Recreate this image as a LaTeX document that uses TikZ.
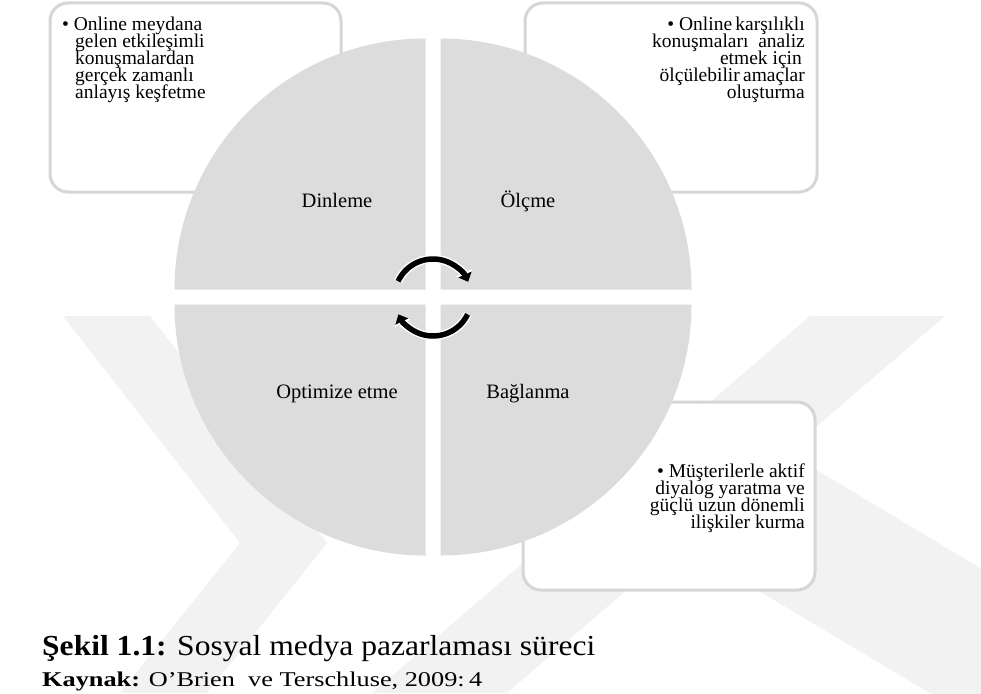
\documentclass[tikz,border=0pt]{standalone}
\usepackage{fontspec}
\setmainfont{Liberation Serif}
\usepackage{graphicx}
\usetikzlibrary{arrows.meta}

\definecolor{slicegray}{HTML}{DCDCDC}
\definecolor{framegray}{HTML}{D6D6D6}
\definecolor{markgray}{HTML}{F2F2F2}

\tikzset{
  slice/.style={fill=slicegray},
  infobox/.style={draw=framegray, line width=3pt, fill=white, rounded corners=18pt},
  boxline/.style={inner sep=0pt, text height=11pt, text depth=3pt, font=\fontsize{19.5}{19.5}\selectfont},
  quadlabel/.style={inner sep=0pt, anchor=base, font=\fontsize{20.5}{20.5}\selectfont},
  markband/.style={fill=markgray},
  halo/.style={white, line width=8.5pt, -{Triangle[width=17pt,length=10pt]}},
  turn/.style={black, line width=5.5pt, -{Triangle[width=14pt,length=8pt]}},
}

\begin{document}
\begin{tikzpicture}[x=1pt, y=-1pt]
\useasboundingbox (0,0) rectangle (981,693);
\fill[white] (0,0) rectangle (981,693);

% faint background emblem
\begin{scope}
  \clip (0,0) rectangle (981,693);
  \fill[markband] (63,316) -- (150,316) -- (327,543) -- (207,693) -- (120,693) -- (240,543) -- cycle;
  \fill[markband] (810,316) -- (945,316) -- (507,693) -- (372,693) -- cycle;
  \fill[markband] (700,400) -- (1000,580) -- (1000,735) -- (640,520) -- cycle;
\end{scope}

% rounded text panels
\draw[infobox] (50,3) rectangle (341,192);
\draw[infobox] (525,3) rectangle (817,192);
\draw[infobox] (523,402) rectangle (815,590);

% four quarter slices of the disc
\fill[slice] (425.5,289.5) -- (174.5,289.5) arc[start angle=180, end angle=270, radius=251] -- cycle;
\fill[slice] (440.5,289.5) -- (440.5,38.5) arc[start angle=270, end angle=360, radius=251] -- cycle;
\fill[slice] (440.5,304.5) -- (691.5,304.5) arc[start angle=0, end angle=90, radius=251] -- cycle;
\fill[slice] (425.5,304.5) -- (425.5,555.5) arc[start angle=90, end angle=180, radius=251] -- cycle;

% slice labels
\node[quadlabel] (dinleme) at (337,207.5) {Dinleme};
\node[quadlabel] (olcme) at (528,207.5) {Ölçme};
\node[quadlabel] (optimize) at (337,398.5) {Optimize etme};
\node[quadlabel] (baglanma) at (528,398.5) {Bağlanma};

% circular arrows in the centre
\coordinate (hub) at (433,297.5);
\draw[halo] ([shift={(205:38.5)}]hub) arc[start angle=205, end angle=336, radius=38.5];
\draw[turn] ([shift={(205:38.5)}]hub) arc[start angle=205, end angle=336, radius=38.5];
\draw[halo] ([shift={(26:38.5)}]hub) arc[start angle=26, end angle=154, radius=38.5];
\draw[turn] ([shift={(26:38.5)}]hub) arc[start angle=26, end angle=154, radius=38.5];

% panel texts
\node[boxline, anchor=base west] (tl1) at (62,30.5) {• Online meydana};
\node[boxline, anchor=base west] (tl2) at (75,47.5) {gelen etkileşimli};
\node[boxline, anchor=base west] (tl3) at (75,64.5) {konuşmalardan};
\node[boxline, anchor=base west] (tl4) at (75,81.5) {gerçek zamanlı};
\node[boxline, anchor=base west] (tl5) at (75,98.5) {anlayış keşfetme};

\node[boxline, anchor=base east] (tr1) at (805,30.5) {• Online\,karşılıklı};
\node[boxline, anchor=base east] (tr2) at (805,47.5) {konuşmaları\ \ analiz};
\node[boxline, anchor=base east] (tr3) at (802,64.5) {etmek için};
\node[boxline, anchor=base east] (tr4) at (805,81.5) {ölçülebilir\,amaçlar};
\node[boxline, anchor=base east] (tr5) at (805,98.5) {oluşturma};

\node[boxline, anchor=base east] (br1) at (805,477) {• Müşterilerle aktif};
\node[boxline, anchor=base east] (br2) at (805,494) {diyalog yaratma ve};
\node[boxline, anchor=base east] (br3) at (805,511) {güçlü uzun dönemli};
\node[boxline, anchor=base east] (br4) at (805,528) {ilişkiler kurma};

% caption and source
\node[anchor=base west, inner sep=0pt, font=\fontsize{29}{29}\selectfont] (caption) at (42,655)
  {\resizebox{553pt}{\height}{\textbf{Şekil 1.1:} Sosyal medya pazarlaması süreci}};
\node[anchor=base west, inner sep=0pt, font=\fontsize{21}{21}\selectfont] (source) at (42,686)
  {\resizebox{440pt}{\height}{\textbf{Kaynak:} O’Brien\ \ ve Terschluse, 2009:\,4}};
\end{tikzpicture}
\end{document}
